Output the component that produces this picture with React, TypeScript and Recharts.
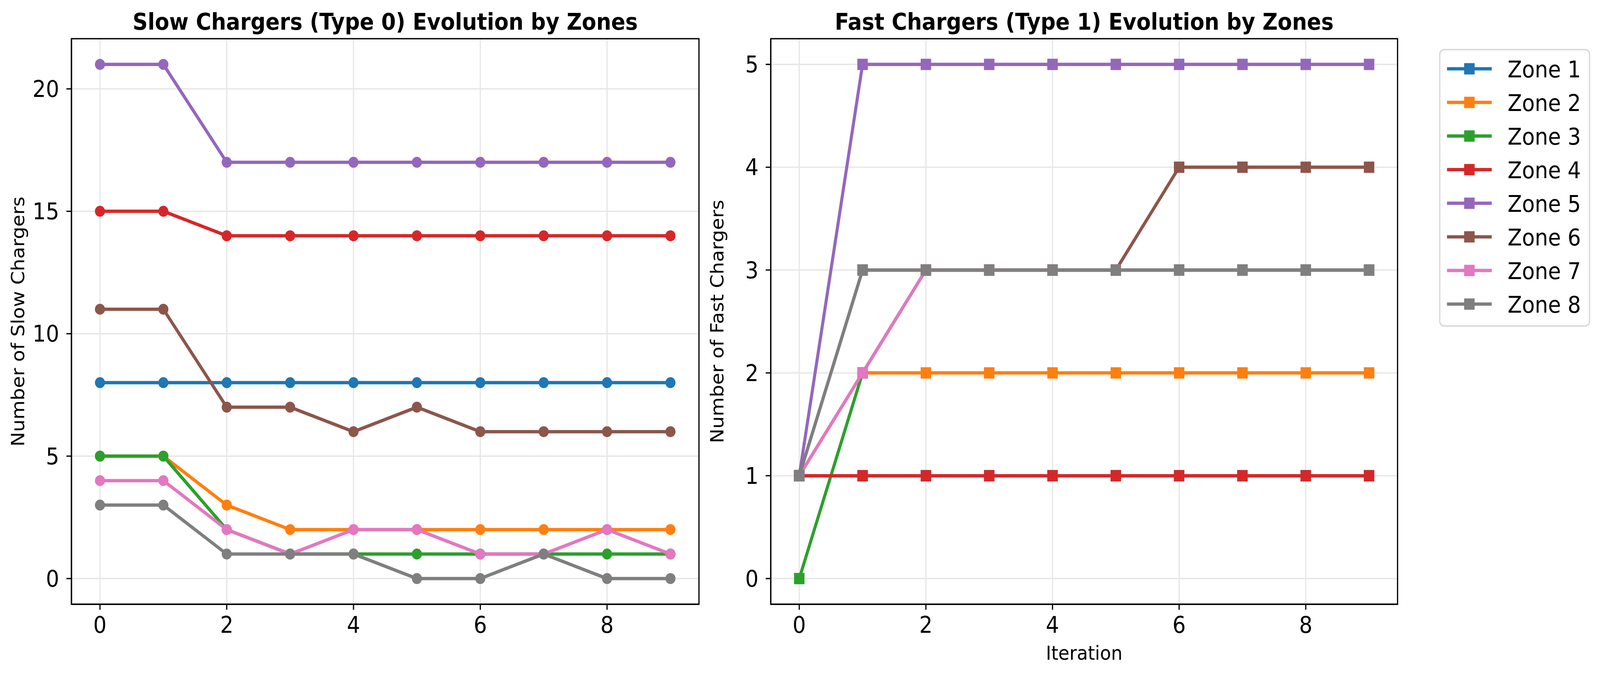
import { LineChart, Line, XAxis, YAxis, CartesianGrid } from 'recharts'

const ITERATIONS = [0, 1, 2, 3, 4, 5, 6, 7, 8, 9]
const ZONES = ['Zone 1', 'Zone 2', 'Zone 3', 'Zone 4', 'Zone 5', 'Zone 6', 'Zone 7', 'Zone 8']
const COLORS = ['#1f77b4', '#ff7f0e', '#2ca02c', '#d62728', '#9467bd', '#8c564b', '#e377c2', '#7f7f7f']

// slow chargers (type 0) per zone
const SLOW_Z1 = [8, 8, 8, 8, 8, 8, 8, 8, 8, 8]
const SLOW_Z2 = [5, 5, 3, 2, 2, 2, 2, 2, 2, 2]
const SLOW_Z3 = [5, 5, 2, 1, 1, 1, 1, 1, 1, 1]
const SLOW_Z4 = [15, 15, 14, 14, 14, 14, 14, 14, 14, 14]
const SLOW_Z5 = [21, 21, 17, 17, 17, 17, 17, 17, 17, 17]
const SLOW_Z6 = [11, 11, 7, 7, 6, 7, 6, 6, 6, 6]
const SLOW_Z7 = [4, 4, 2, 1, 2, 2, 1, 1, 2, 1]
const SLOW_Z8 = [3, 3, 1, 1, 1, 0, 0, 1, 0, 0]

// fast chargers (type 1) per zone
const FAST_Z1 = [1, 1, 1, 1, 1, 1, 1, 1, 1, 1]
const FAST_Z2 = [1, 2, 2, 2, 2, 2, 2, 2, 2, 2]
const FAST_Z3 = [0, 2, 3, 3, 3, 3, 3, 3, 3, 3]
const FAST_Z4 = [1, 1, 1, 1, 1, 1, 1, 1, 1, 1]
const FAST_Z5 = [1, 5, 5, 5, 5, 5, 5, 5, 5, 5]
const FAST_Z6 = [1, 3, 3, 3, 3, 3, 4, 4, 4, 4]
const FAST_Z7 = [1, 2, 3, 3, 3, 3, 3, 3, 3, 3]
const FAST_Z8 = [1, 3, 3, 3, 3, 3, 3, 3, 3, 3]

const SLOW_TICKS = [0, 5, 10, 15, 20]
const FAST_TICKS = [0, 1, 2, 3, 4, 5]
const X_TICKS = [0, 2, 4, 6, 8]

const SLOW = [SLOW_Z1, SLOW_Z2, SLOW_Z3, SLOW_Z4, SLOW_Z5, SLOW_Z6, SLOW_Z7, SLOW_Z8]
const FAST = [FAST_Z1, FAST_Z2, FAST_Z3, FAST_Z4, FAST_Z5, FAST_Z6, FAST_Z7, FAST_Z8]

const W = 4434
const H = 1727
const FONT = 'DejaVu Sans'
const TOP = 99
const BOTTOM = 1546
const LEFT_PLOT = [198, 1937]
const RIGHT_PLOT = [2136, 3873]
const LW = 8.5
const SPINE = 3.3

function toRows(series: number[][]) {
  return ITERATIONS.map((it, i) => {
    const row: Record<string, number> = { iter: it }
    series.forEach((s, z) => {
      row['z' + (z + 1)] = s[i]
    })
    return row
  })
}

const tickStyle = { fontSize: 58, fill: '#000', fontFamily: FONT }

function squareDot(color: string) {
  return (p: any) => (
    <rect key={'sq' + p.index} x={p.cx - 14.5} y={p.cy - 14.5} width={29} height={29} fill={color} />
  )
}

function circleDot(color: string) {
  return (p: any) => <circle key={'c' + p.index} cx={p.cx} cy={p.cy} r={14} fill={color} />
}

function Panel({ series, domain, ticks, square, width, margin }: any) {
  return (
    <LineChart width={width} height={H} data={toRows(series)} margin={margin}>
      <CartesianGrid stroke="#e6e6e6" strokeWidth={3.3} />
      <XAxis
        dataKey="iter"
        type="number"
        domain={[-0.45, 9.45]}
        allowDataOverflow
        ticks={X_TICKS}
        height={100}
        tick={tickStyle}
        tickSize={14}
        tickMargin={18}
        axisLine={{ stroke: '#000', strokeWidth: SPINE }}
        tickLine={{ stroke: '#000', strokeWidth: SPINE }}
      />
      <YAxis
        type="number"
        domain={domain}
        allowDataOverflow
        ticks={ticks}
        width={100}
        tick={tickStyle}
        tickSize={14}
        tickMargin={20}
        axisLine={{ stroke: '#000', strokeWidth: SPINE }}
        tickLine={{ stroke: '#000', strokeWidth: SPINE }}
      />
      {series.map((_: number[], z: number) => (
        <Line
          key={z}
          type="linear"
          dataKey={'z' + (z + 1)}
          stroke={COLORS[z]}
          strokeWidth={LW}
          dot={square ? squareDot(COLORS[z]) : circleDot(COLORS[z])}
          activeDot={false}
          isAnimationActive={false}
        />
      ))}
    </LineChart>
  )
}

export default function App() {
  const midY = (TOP + BOTTOM) / 2
  // the visible page is not exactly the reference size, so stretch the layout to the window
  const vw = typeof window !== 'undefined' && window.innerWidth ? window.innerWidth : W
  const vh = typeof window !== 'undefined' && window.innerHeight ? window.innerHeight : H
  const sx = vw / W
  const sy = vh / H
  return (
    <div style={{ position: 'fixed', left: 0, top: 0, width: vw, height: vh, overflow: 'hidden', background: '#fff' }}>
      <div style={{ position: 'absolute', left: 0, top: 0, width: W, height: H, transform: `scale(${sx}, ${sy})`, transformOrigin: '0 0' }}>
        <div style={{ position: 'absolute', left: 0, top: 0 }}>
          <Panel
            series={SLOW}
            domain={[-1.05, 22.05]}
            ticks={SLOW_TICKS}
            square={false}
            width={1960}
            margin={{ top: TOP, right: 1960 - LEFT_PLOT[1], bottom: H - BOTTOM - 100, left: LEFT_PLOT[0] - 100 }}
          />
        </div>
        <div style={{ position: 'absolute', left: 1990, top: 0 }}>
          <Panel
            series={FAST}
            domain={[-0.25, 5.25]}
            ticks={FAST_TICKS}
            square={true}
            width={1900}
            margin={{ top: TOP, right: 1990 + 1900 - RIGHT_PLOT[1], bottom: H - BOTTOM - 100, left: RIGHT_PLOT[0] - 1990 - 100 }}
          />
        </div>
        <svg
          width={W}
          height={H}
          style={{ position: 'absolute', left: 0, top: 0, pointerEvents: 'none' }}
          fontFamily={FONT}
        >
          {[LEFT_PLOT, RIGHT_PLOT].map((p, i) => (
            <rect key={i} x={p[0]} y={TOP} width={p[1] - p[0]} height={BOTTOM - TOP} fill="none" stroke="#000" strokeWidth={SPINE} />
          ))}
          <text x={(LEFT_PLOT[0] + LEFT_PLOT[1]) / 2} y={76} textAnchor="middle" fontSize={58} fontWeight="bold">
            Slow Chargers (Type 0) Evolution by Zones
          </text>
          <text x={(RIGHT_PLOT[0] + RIGHT_PLOT[1]) / 2} y={76} textAnchor="middle" fontSize={58} fontWeight="bold">
            Fast Chargers (Type 1) Evolution by Zones
          </text>
          <text x={67} y={midY} textAnchor="middle" fontSize={50} transform={`rotate(-90, 67, ${midY})`}>
            Number of Slow Chargers
          </text>
          <text x={2005} y={midY} textAnchor="middle" fontSize={50} transform={`rotate(-90, 2005, ${midY})`}>
            Number of Fast Chargers
          </text>
          <text x={(RIGHT_PLOT[0] + RIGHT_PLOT[1]) / 2} y={1688} textAnchor="middle" fontSize={50}>
            Iteration
          </text>
          <rect x={3990} y={127} width={415} height={707} rx={12} fill="#fff" stroke="#d6d6d6" strokeWidth={3.3} />
          {ZONES.map((name, i) => {
            const cy = 176 + 86 * i
            return (
              <g key={name}>
                <line x1={4010} x2={4134} y1={cy} y2={cy} stroke={COLORS[i]} strokeWidth={LW} />
                <rect x={4072 - 14.5} y={cy - 14.5} width={29} height={29} fill={COLORS[i]} />
                <text x={4178} y={cy + 22} fontSize={58}>
                  {name}
                </text>
              </g>
            )
          })}
        </svg>
      </div>
    </div>
  )
}
